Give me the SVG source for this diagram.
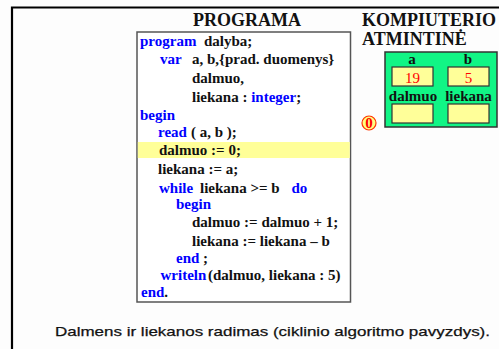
<svg xmlns="http://www.w3.org/2000/svg" width="499" height="349" viewBox="0 0 499 349">
  <style>
    .code { font-family: "Liberation Serif", "Times New Roman", serif; font-weight: bold; font-size: 15px; fill: #111; }
    .kw { fill: #0000ff; }
    .title { font-family: "Liberation Serif", "Times New Roman", serif; font-weight: bold; font-size: 18px; fill: #111; }
    .cell { fill: #ffff99; stroke: #333; stroke-width: 1.2; }
    .lbl { font-family: "Liberation Serif", "Times New Roman", serif; font-weight: bold; font-size: 15px; fill: #111; text-anchor: middle; }
    .val { font-family: "Liberation Serif", "Times New Roman", serif; font-size: 15px; fill: #ff0000; text-anchor: middle; }
    .caption { font-family: "Liberation Sans", Arial, sans-serif; font-size: 13.5px; fill: #111; stroke: #111; stroke-width: 0.25; }
  </style>

  <rect x="0" y="0" width="499" height="349" fill="#fdfdfd"/>

  <!-- frame -->
  <path d="M12 349 V7.5 H499" fill="none" stroke="#000" stroke-width="2.2"/>

  <!-- titles -->
  <text class="title" x="247" y="26" text-anchor="middle">PROGRAMA</text>
  <text class="title" x="362" y="26">KOMPIUTERIO</text>
  <text class="title" x="362" y="45" font-size="17.5">ATMINTINĖ</text>

  <!-- program listing -->
  <g id="program">
    <rect x="137" y="32" width="213.5" height="270" fill="#fff" stroke="#555" stroke-width="1.5"/>
    <rect x="137.8" y="142" width="212" height="16" fill="#ffff99"/>
    <text class="code" x="140" y="46"><tspan class="kw">program</tspan></text>
    <text class="code" x="204" y="46">dalyba;</text>
    <text class="code" x="160" y="63.5"><tspan class="kw">var</tspan></text>
    <text class="code" x="192" y="63.5">a, b,{prad. duomenys}</text>
    <text class="code" x="192" y="82.5">dalmuo,</text>
    <text class="code" x="192" y="101.5">liekana : <tspan class="kw">integer</tspan>;</text>
    <text class="code" x="140" y="120"><tspan class="kw">begin</tspan></text>
    <text class="code" x="158" y="137"><tspan class="kw">read</tspan></text>
    <text class="code" x="191" y="137">( a, b );</text>
    <text class="code" x="159" y="155">dalmuo := 0;</text>
    <text class="code" x="158" y="174">liekana := a;</text>
    <text class="code" x="159" y="192.5"><tspan class="kw">while</tspan></text>
    <text class="code" x="200" y="192.5">liekana &gt;= b</text>
    <text class="code" x="291.5" y="192.5"><tspan class="kw">do</tspan></text>
    <text class="code" x="176" y="208.5"><tspan class="kw">begin</tspan></text>
    <text class="code" x="192" y="227">dalmuo := dalmuo + 1;</text>
    <text class="code" x="192" y="246">liekana := liekana – b</text>
    <text class="code" x="176" y="262.5"><tspan class="kw">end</tspan> ;</text>
    <text class="code" x="160.5" y="279.5"><tspan class="kw">writeln</tspan></text>
    <text class="code" x="208" y="279.5">(dalmuo, liekana : 5)</text>
    <text class="code" x="141" y="297"><tspan class="kw">end</tspan>.</text>
  </g>

  <!-- memory cells -->
  <g id="memory">
    <rect x="385" y="52" width="112" height="75" fill="#11f585" stroke="#333" stroke-width="1.5"/>
    <text class="lbl" x="412" y="64">a</text>
    <text class="lbl" x="468" y="64">b</text>
    <rect class="cell" x="392" y="67" width="41" height="19"/>
    <rect class="cell" x="448" y="67" width="41" height="19"/>
    <text class="val" x="412.5" y="82.5">19</text>
    <text class="val" x="468.5" y="82.5">5</text>
    <text class="lbl" x="413" y="101">dalmuo</text>
    <text class="lbl" x="468.5" y="101">liekana</text>
    <rect class="cell" x="392" y="104" width="41" height="19"/>
    <rect class="cell" x="448" y="104" width="41" height="19"/>
  </g>

  <!-- current value marker -->
  <g id="marker">
    <circle cx="369" cy="123" r="7" fill="#ffff80" stroke="#ff3300" stroke-width="1.2"/>
    <text class="val" x="369" y="128" font-weight="bold" font-size="13">0</text>
  </g>

  <text class="caption" x="55" y="336" textLength="435" lengthAdjust="spacingAndGlyphs">Dalmens ir liekanos radimas (ciklinio algoritmo pavyzdys).</text>
</svg>
